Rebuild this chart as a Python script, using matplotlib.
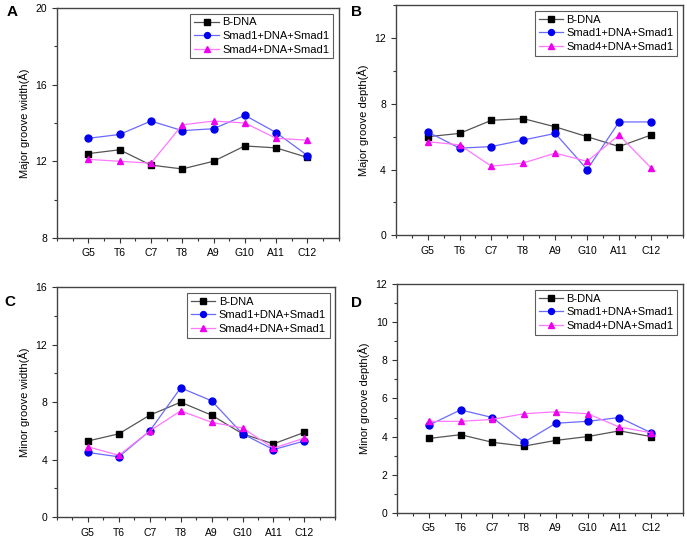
import matplotlib.pyplot as plt
from matplotlib.ticker import MultipleLocator

plt.rcParams['font.family'] = ['Liberation Sans', 'DejaVu Sans']

bases = ['G5', 'T6', 'C7', 'T8', 'A9', 'G10', 'A11', 'C12']
pos = list(range(1, len(bases) + 1))

# A: major groove width
maj_w_bdna = [12.4, 12.6, 11.8, 11.6, 12.0, 12.8, 12.7, 12.2]
maj_w_smad1 = [13.2, 13.4, 14.1, 13.6, 13.7, 14.4, 13.5, 12.3]
maj_w_smad4 = [12.1, 12.0, 11.9, 13.9, 14.1, 14.0, 13.2, 13.1]

# B: major groove depth
maj_d_bdna = [6.0, 6.2, 7.0, 7.1, 6.6, 6.0, 5.4, 6.1]
maj_d_smad1 = [6.3, 5.3, 5.4, 5.8, 6.2, 4.0, 6.9, 6.9]
maj_d_smad4 = [5.7, 5.5, 4.2, 4.4, 5.0, 4.5, 6.1, 4.1]

# C: minor groove width
min_w_bdna = [5.3, 5.8, 7.1, 8.0, 7.1, 5.8, 5.1, 5.9]
min_w_smad1 = [4.5, 4.2, 6.0, 9.0, 8.1, 5.8, 4.7, 5.3]
min_w_smad4 = [4.9, 4.3, 6.0, 7.4, 6.6, 6.2, 4.8, 5.5]

# D: minor groove depth
min_d_bdna = [3.9, 4.1, 3.7, 3.5, 3.8, 4.0, 4.3, 4.0]
min_d_smad1 = [4.6, 5.4, 5.0, 3.7, 4.7, 4.8, 5.0, 4.2]
min_d_smad4 = [4.8, 4.8, 4.9, 5.2, 5.3, 5.2, 4.5, 4.2]

series_names = ['B-DNA', 'Smad1+DNA+Smad1', 'Smad4+DNA+Smad1']

fig = plt.figure(figsize=(6.87, 5.37), dpi=100)

# (rect, letter, letter pos, ylabel, ylim, major, minor, data)
panels = [
    ([0.083, 0.557, 0.410, 0.428], 'A', (12, 12), 'Major groove width(Å)', (8, 20), 4, 2,
     (maj_w_bdna, maj_w_smad1, maj_w_smad4)),
    ([0.576, 0.562, 0.418, 0.428], 'B', (357, 12), 'Major groove depth(Å)', (0, 14), 4, 2,
     (maj_d_bdna, maj_d_smad1, maj_d_smad4)),
    ([0.083, 0.037, 0.405, 0.428], 'C', (10, 302), 'Minor groove width(Å)', (0, 16), 4, 2,
     (min_w_bdna, min_w_smad1, min_w_smad4)),
    ([0.578, 0.045, 0.416, 0.426], 'D', (357, 303), 'Minor groove depth(Å)', (0, 12), 2, 1,
     (min_d_bdna, min_d_smad1, min_d_smad4)),
]

for rect, letter, lpos, ylab, ylim, maj, mnr, data in panels:
    ax = fig.add_axes(rect)
    bdna, s1, s4 = data
    ax.plot(pos, bdna, '-', color='#555555', lw=0.9, marker='s', ms=4.5,
            mfc='black', mec='black', label=series_names[0])
    ax.plot(pos, s1, '-', color='#6a6aff', lw=0.9, marker='o', ms=5,
            mfc='#0000ee', mec='#0000ee', label=series_names[1])
    ax.plot(pos, s4, '-', color='#ff77ff', lw=0.9, marker='^', ms=5,
            mfc='#ee00ee', mec='#ee00ee', label=series_names[2])
    ax.set_xlim(0, 9)
    ax.set_ylim(*ylim)
    ax.set_xticks(pos)
    ax.set_xticklabels(bases)
    ax.xaxis.set_minor_locator(MultipleLocator(0.5))
    ax.yaxis.set_major_locator(MultipleLocator(maj))
    ax.yaxis.set_minor_locator(MultipleLocator(mnr))
    ax.tick_params(which='major', direction='out', length=3.5, width=0.8,
                   labelsize=7.5, colors='#333333', labelcolor='black')
    ax.tick_params(which='minor', direction='out', length=2, width=0.8, colors='#333333')
    ax.tick_params(axis='x', pad=4)
    for s in ax.spines.values():
        s.set_color('#444444')
        s.set_linewidth(1.0)
    ax.set_ylabel(ylab, fontsize=8)
    leg = ax.legend(loc='upper right', fontsize=8, frameon=True, fancybox=False,
                    edgecolor='#333333', borderpad=0.35, labelspacing=0.32,
                    handlelength=2.2, handletextpad=0.3, borderaxespad=0.5,
                    markerscale=0.85)
    leg.get_frame().set_linewidth(0.8)
    fig.text(lpos[0] / 687, 1 - lpos[1] / 537, letter, fontsize=11,
             fontweight='bold', ha='center', va='center')

fig.savefig('out.png', dpi=100)
